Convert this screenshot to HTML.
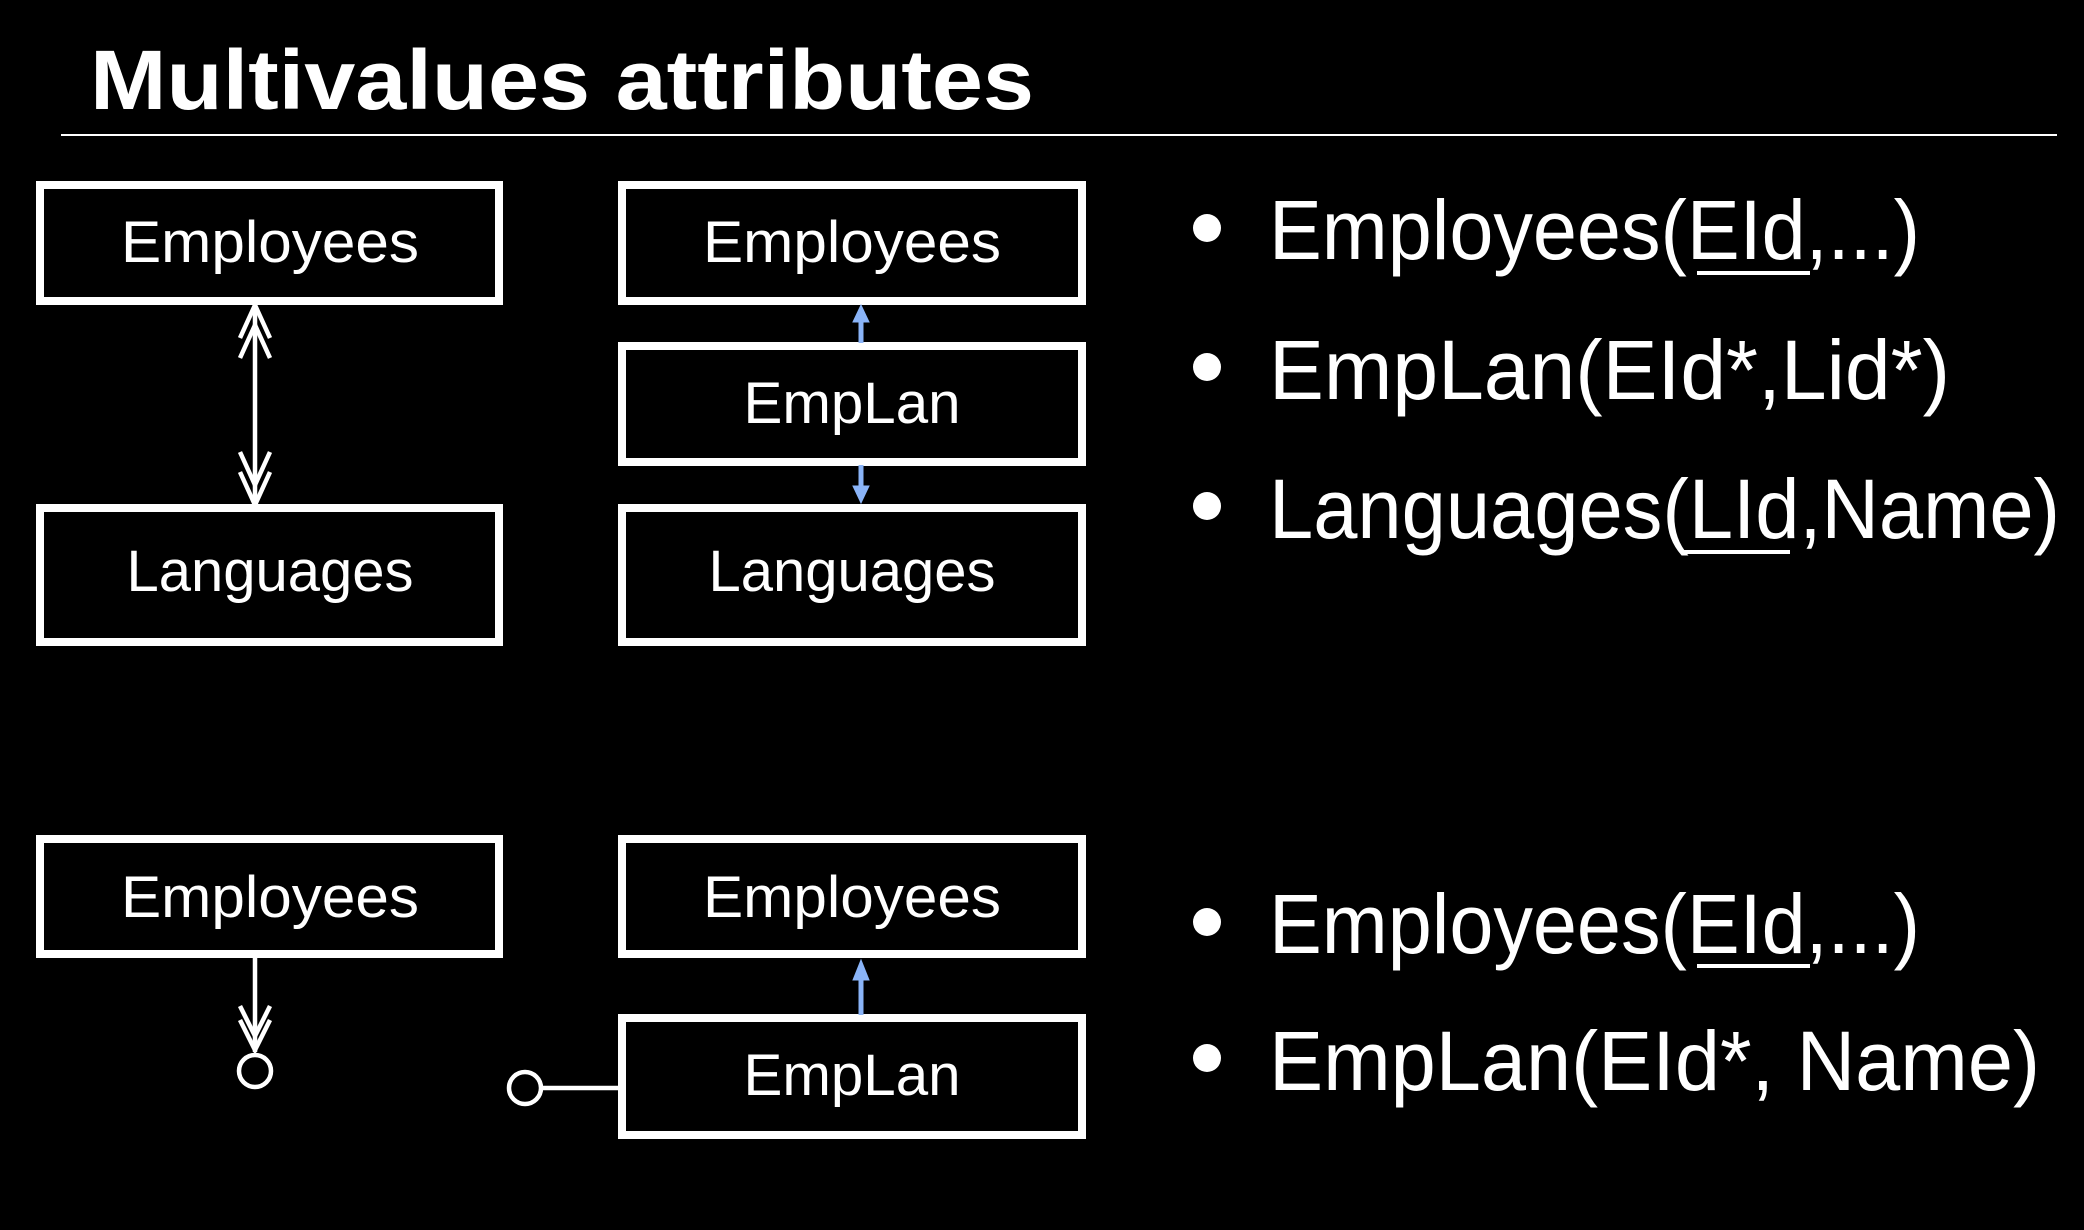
<!DOCTYPE html>
<html><head><meta charset="utf-8"><style>
html,body{margin:0;padding:0;background:#000;}
svg{display:block;}
text{font-family:"Liberation Sans",sans-serif;fill:#fff;}
</style></head><body>
<svg width="2084" height="1230" viewBox="0 0 2084 1230" xmlns="http://www.w3.org/2000/svg">
<rect width="2084" height="1230" fill="#000"/>
<text x="90" y="109" font-size="84" font-weight="bold" textLength="944" lengthAdjust="spacingAndGlyphs">Multivalues attributes</text>
<line x1="61" y1="135" x2="2057" y2="135" stroke="#fff" stroke-width="2"/>
<g fill="none" stroke="#fff" stroke-width="8">
<rect x="40" y="185" width="459" height="116"/>
<rect x="622" y="185" width="460" height="116"/>
<rect x="622" y="346" width="460" height="116"/>
<rect x="40" y="508" width="459" height="134"/>
<rect x="622" y="508" width="460" height="134"/>
<rect x="40" y="839" width="459" height="115"/>
<rect x="622" y="839" width="460" height="115"/>
<rect x="622" y="1018" width="460" height="117"/>
</g>
<g font-size="58" text-anchor="middle">
<text x="270" y="262" textLength="298" lengthAdjust="spacingAndGlyphs">Employees</text>
<text x="852" y="262" textLength="298" lengthAdjust="spacingAndGlyphs">Employees</text>
<text x="852" y="423" textLength="217" lengthAdjust="spacingAndGlyphs">EmpLan</text>
<text x="270" y="591" textLength="287" lengthAdjust="spacingAndGlyphs">Languages</text>
<text x="852" y="591" textLength="287" lengthAdjust="spacingAndGlyphs">Languages</text>
<text x="270" y="917" textLength="298" lengthAdjust="spacingAndGlyphs">Employees</text>
<text x="852" y="917" textLength="298" lengthAdjust="spacingAndGlyphs">Employees</text>
<text x="852" y="1095" textLength="217" lengthAdjust="spacingAndGlyphs">EmpLan</text>
</g>
<g stroke="#fff" stroke-width="4.5" fill="none">
<line x1="255" y1="305" x2="255" y2="503"/>
<polyline points="240,338 255,305 270,338"/>
<polyline points="240,358 255,325 270,358"/>
<polyline points="240,472 255,505 270,472"/>
<polyline points="240,452 255,485 270,452"/>
<line x1="255" y1="957" x2="255" y2="1052"/>
<polyline points="240,1020 255,1050 270,1020"/>
<polyline points="240,1006 255,1036 270,1006"/>
<circle cx="255" cy="1071" r="16"/>
<circle cx="525" cy="1088" r="16"/>
<line x1="541" y1="1088" x2="620" y2="1088"/>
</g>
<g stroke="#8ab4f8" stroke-width="5" fill="#8ab4f8">
<line x1="861" y1="343" x2="861" y2="320"/>
<polygon points="853,322 861,305 869,322" stroke-width="1"/>
<line x1="861" y1="465" x2="861" y2="488"/>
<polygon points="853,486 861,503 869,486" stroke-width="1"/>
<line x1="861" y1="1015" x2="861" y2="978"/>
<polygon points="853,980 861,960 869,980" stroke-width="1"/>
</g>
<g fill="#fff">
<circle cx="1207" cy="228" r="14"/>
<circle cx="1207" cy="367" r="14"/>
<circle cx="1207" cy="506" r="14"/>
<circle cx="1207" cy="922" r="14"/>
<circle cx="1207" cy="1058" r="14"/>
</g>
<g font-size="84">
<text x="1269" y="259" textLength="651" lengthAdjust="spacingAndGlyphs">Employees(EId,...)</text>
<text x="1269" y="399" textLength="681" lengthAdjust="spacingAndGlyphs">EmpLan(EId*,Lid*)</text>
<text x="1269" y="538" textLength="791" lengthAdjust="spacingAndGlyphs">Languages(LId,Name)</text>
<text x="1269" y="953" textLength="651" lengthAdjust="spacingAndGlyphs">Employees(EId,...)</text>
<text x="1269" y="1090" textLength="771" lengthAdjust="spacingAndGlyphs">EmpLan(EId*, Name)</text>
</g>
<g stroke="#fff" stroke-width="4">
<line x1="1697" y1="273" x2="1810" y2="273"/>
<line x1="1684" y1="552" x2="1790" y2="552"/>
<line x1="1697" y1="966" x2="1810" y2="966"/>
</g>
</svg>
</body></html>
